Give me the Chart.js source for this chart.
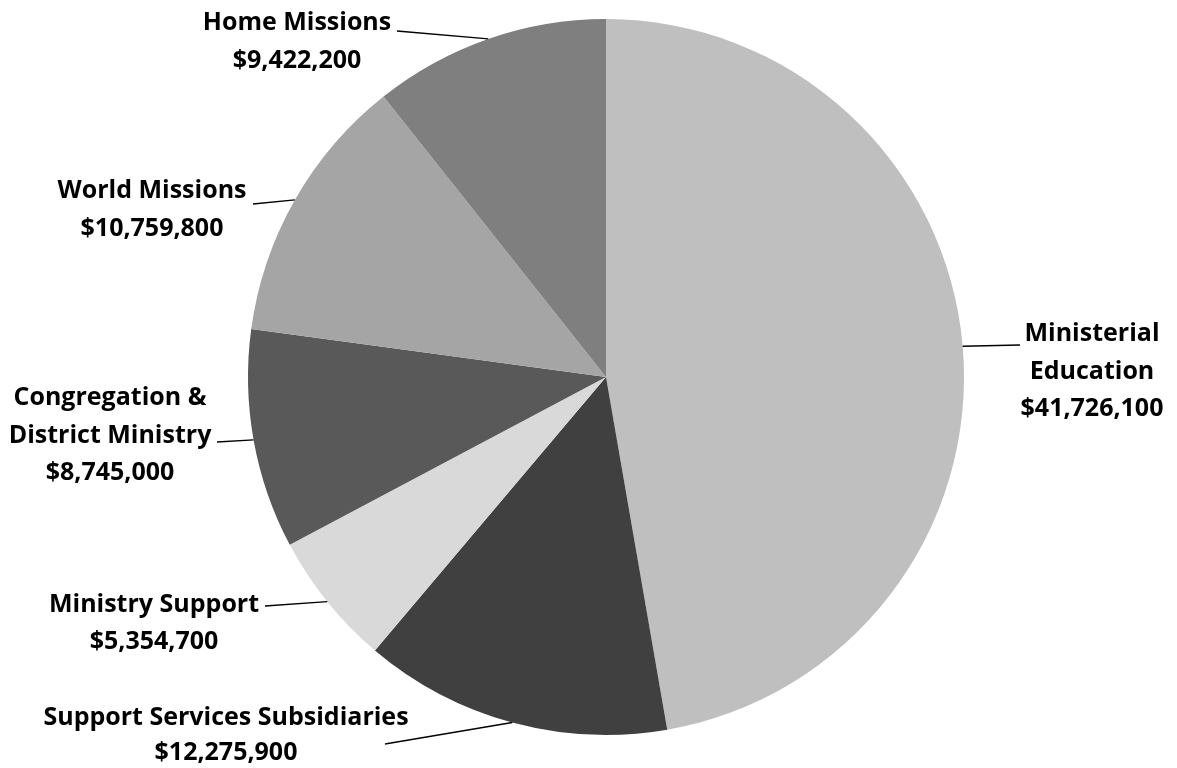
<!DOCTYPE html>
<html>
<head>
<meta charset="utf-8">
<script src="https://cdn.jsdelivr.net/npm/chart.js@4/dist/chart.umd.min.js"></script>
<style>
html,body{margin:0;padding:0;background:#fff;}
#wrap{width:1177px;height:768px;position:relative;}
</style>
</head>
<body>
<div id="wrap"><canvas id="c" width="1177" height="768"></canvas></div>
<script>
const categories = ["Ministerial Education", "Support Services Subsidiaries", "Ministry Support", "Congregation & District Ministry", "World Missions", "Home Missions"];
const values = [41726100, 12275900, 5354700, 8745000, 10759800, 9422200];
const colors = ["#BFBFBF", "#404040", "#D9D9D9", "#595959", "#A5A5A5", "#7F7F7F"];
const labelLines = [
  ["Ministerial", "Education"],
  ["Support Services Subsidiaries"],
  ["Ministry Support"],
  ["Congregation &", "District Ministry"],
  ["World Missions"],
  ["Home Missions"]
];

function fmt(v){ return "$" + v.toLocaleString("en-US"); }

// label layout: text centre x, first line y, line gap, leader anchor
const labelLayout = [
  {x:1092, y:334, gap:37.5, ax:1020, ay:345},
  {x:226,  y:718, gap:35,   ax:385,  ay:744},
  {x:154,  y:605, gap:37,   ax:265,  ay:606},
  {x:110,  y:398, gap:37.5, ax:217,  ay:442},
  {x:152,  y:191, gap:38,   ax:253,  ay:204},
  {x:297,  y:23,  gap:38,   ax:397,  ay:31}
];

const labelPlugin = {
  id: 'outLabels',
  afterDatasetsDraw(chart){
    const ctx = chart.ctx;
    const meta = chart.getDatasetMeta(0);
    ctx.save();
    meta.data.forEach((arc, i) => {
      const L = labelLayout[i];
      const mid = (arc.startAngle + arc.endAngle) / 2;
      const ex = arc.x + Math.cos(mid) * arc.outerRadius;
      const ey = arc.y + Math.sin(mid) * arc.outerRadius;
      ctx.strokeStyle = '#000';
      ctx.lineWidth = 1.3;
      ctx.beginPath();
      ctx.moveTo(L.ax, L.ay);
      ctx.lineTo(ex, ey);
      ctx.stroke();
      const lines = labelLines[i].concat([fmt(values[i])]);
      ctx.fillStyle = '#000';
      ctx.font = 'bold 25px "Open Sans"';
      ctx.textAlign = 'center';
      ctx.textBaseline = 'middle';
      lines.forEach((t, k) => ctx.fillText(t, L.x, L.y + k * L.gap));
    });
    ctx.restore();
  }
};

new Chart(document.getElementById('c'), {
  type: 'pie',
  data: {
    labels: categories,
    datasets: [{ data: values, backgroundColor: colors, borderWidth: 0 }]
  },
  options: {
    responsive: false,
    animation: false,
    layout: { padding: { left: 248, right: 213, top: 19, bottom: 33 } },
    plugins: { legend: { display: false }, tooltip: { enabled: false } }
  },
  plugins: [labelPlugin]
});
</script>
</body>
</html>
